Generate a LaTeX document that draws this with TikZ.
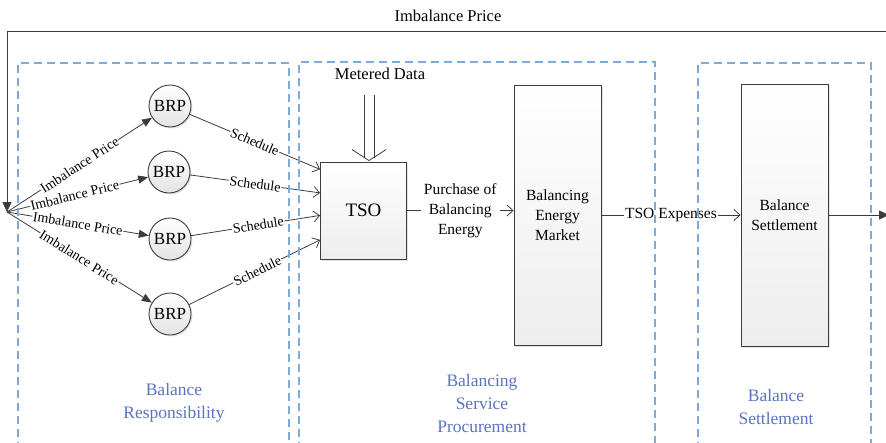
\documentclass[tikz,border=0pt]{standalone}
\usepackage{fontspec}
\setmainfont{Liberation Serif}
\newfontfamily\labelserif{Liberation Serif}
\usetikzlibrary{arrows.meta,calc,shadows}
\definecolor{regionblue}{HTML}{5A74BE}
\definecolor{dashblue}{HTML}{7EAAD8}
\definecolor{edgegray}{HTML}{3C3C3C}

\begin{document}
\begin{tikzpicture}[x=1pt,y=-1pt,
  every node/.style={font=\labelserif\fontsize{15.5}{20}\selectfont},
  softshadow/.style={drop shadow={opacity=0.22,shadow xshift=1.5pt,shadow yshift=-1.5pt}},
  block/.style={draw=edgegray, line width=0.9pt, top color=white, bottom color=gray!14,
    softshadow, align=center, inner sep=0pt},
  brp/.style={circle, draw=edgegray, line width=0.9pt, top color=white, bottom color=gray!22,
    minimum size=42pt, inner sep=0pt, font=\labelserif\fontsize{17}{20}\selectfont, softshadow},
  region/.style={draw=dashblue, dash pattern=on 8pt off 5pt, line width=1.2pt},
  regionlabel/.style={text=regionblue, align=center, font=\labelserif\fontsize{17.5}{23}\selectfont},
  flow/.style={draw=edgegray, line width=0.8pt},
  openarrow/.style={-{Straight Barb[length=6pt,width=11pt]}},
  solidarrow/.style={-{Triangle[length=10pt,width=8pt]}},
  elabel/.style={font=\labelserif\fontsize{14}{15}\selectfont, fill=white, inner sep=0.8pt, sloped},
  toptext/.style={font=\labelserif\fontsize{16.5}{20}\selectfont}
]
\useasboundingbox (0,0) rectangle (886,442);

% blocks
\node[block, minimum width=86pt, minimum height=97pt, font=\labelserif\fontsize{19}{22}\selectfont] (TSO) at (363.5,210.5) {TSO};
\node[block, minimum width=87pt, minimum height=260pt] (BEM) at (557.5,215) {Balancing\\Energy\\Market};
\node[block, minimum width=87pt, minimum height=262pt] (BS) at (784.5,215) {Balance\\Settlement};

% balance responsible parties
\node[brp] (b1) at (170,106) {BRP};
\node[brp] (b2) at (169,172) {BRP};
\node[brp] (b3) at (170,239) {BRP};
\node[brp] (b4) at (170,314) {BRP};

% feedback loop of the imbalance price
\coordinate (fan) at (7,212);
\coordinate (loopR) at (889,31);
\coordinate (loopL) at (7,31);
\coordinate (outR) at (889,212);
\node[toptext] (toplabel) at (448,16) {Imbalance Price};
\draw[flow, -{Triangle[length=10pt,width=9pt]}] (loopR) -- (loopL) -- (fan);

% imbalance price to each BRP
\draw[flow, solidarrow] (fan) -- node[elabel, pos=0.5] {Imbalance Price} (b1);
\draw[flow, solidarrow] (fan) -- node[elabel, pos=0.48] {Imbalance Price} (b2);
\draw[flow, solidarrow] (fan) -- node[elabel, pos=0.5] {Imbalance Price} (b3);
\draw[flow, solidarrow] (fan) -- node[elabel, pos=0.5] {Imbalance Price} (b4);

% schedules to the TSO
\draw[flow, openarrow] (b1) -- node[elabel, pos=0.5] {Schedule} ($(TSO.north west)!0.08!(TSO.south west)$);
\draw[flow, openarrow] (b2) -- node[elabel, pos=0.5] {Schedule} ($(TSO.north west)!0.32!(TSO.south west)$);
\draw[flow, openarrow] (b3) -- node[elabel, pos=0.52] {Schedule} ($(TSO.north west)!0.55!(TSO.south west)$);
\draw[flow, openarrow] (b4) -- node[elabel, pos=0.52] {Schedule} ($(TSO.north west)!0.80!(TSO.south west)$);

% metered data into the TSO: a hollow double arrow
\node[toptext] (md) at (380,74) {Metered Data};
\coordinate (mdtop) at (369,95);
\coordinate (mdtip) at (mdtop |- TSO.north);
\draw[flow] ($(mdtop)+(-5,0)$) -- ($(mdtip)+(-5,-4)$);
\draw[flow] ($(mdtop)+(5,0)$) -- ($(mdtip)+(5,-4)$);
\draw[flow] ($(mdtip)+(-17,-12)$) -- ($(mdtip)+(0,-1)$) -- ($(mdtip)+(17,-12)$);

% procurement and settlement flows
\draw[flow, openarrow] (TSO.east) -- node[fill=white, align=center, inner sep=3pt] {Purchase of\\Balancing\\Energy} (TSO.east -| BEM.west);
\draw[flow, openarrow] (BEM) -- node[fill=white, inner sep=1pt] {TSO Expenses} (BS);
\draw[flow, -{Triangle[length=10pt,width=9pt]}] (BS.east) -- (BS.east -| outR);

% dashed regions
\draw[region] (18,450) -- (18,63) -- (289,63) -- (289,450);
\draw[region] (299,450) -- (299,62) -- (655,62) -- (655,450);
\draw[region] (698,450) -- (698,63) -- (871,63) -- (871,450);

\node[regionlabel] (rl1) at (174,403) {Balance\\Responsibility};
\node[regionlabel] (rl2) at (482,404) {Balancing\\Service\\Procurement};
\node[regionlabel] (rl3) at (776,407) {Balance\\Settlement};
\end{tikzpicture}
\end{document}
